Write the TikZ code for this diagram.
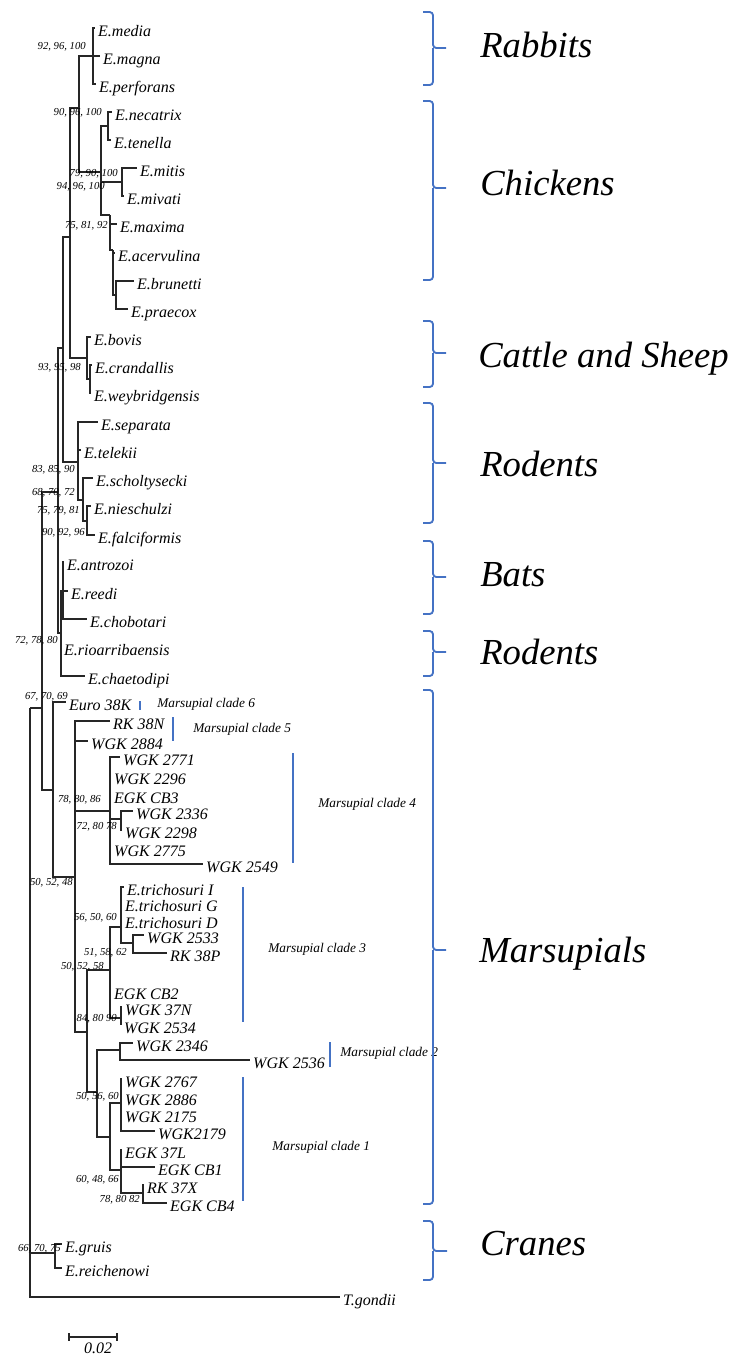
\documentclass[tikz,border=0pt]{standalone}
\usepackage{fontspec}
\setmainfont{Liberation Serif}
\usepackage{tikz}
\definecolor{cladeblue}{RGB}{68,114,196}

\begin{document}
\begin{tikzpicture}[x=0.75pt,y=-0.75pt,
    branch/.style={draw=black!85,line width=0.8pt},
    taxon/.style={anchor=west,inner xsep=2.2pt,inner ysep=0pt,text height=12pt,text depth=0pt,font=\itshape\fontsize{12}{14}\selectfont},
    boot/.style={anchor=east,inner sep=0pt,font=\itshape\fontsize{8}{9}\selectfont},
    clade/.style={anchor=west,inner sep=0pt,font=\itshape\fontsize{10}{12}\selectfont},
    host/.style={anchor=base west,inner sep=0pt,font=\itshape\fontsize{27.5}{32}\selectfont},
    cbar/.style={draw=cladeblue,line width=2.2pt},
    hbrace/.style={draw=cladeblue,line width=1.4pt,rounded corners=2.5pt}]
    \useasboundingbox (0,0) rectangle (735,1357);

    \coordinate (nroot) at (30,708);
    \coordinate (na) at (42,708);
    \coordinate (nb) at (58,492);
    \coordinate (nc) at (63,348);
    \coordinate (nd) at (70,237);
    \coordinate (ne) at (79,108);
    \coordinate (nrab) at (93,56);
    \coordinate (nchk) at (101,172);
    \coordinate (nnec) at (108,126);
    \coordinate (nmit) at (122,182);
    \coordinate (nmax) at (110,215);
    \coordinate (nace) at (113,250);
    \coordinate (nbru) at (116,295);
    \coordinate (ncat) at (87,358);
    \coordinate (ncra) at (90,379);
    \coordinate (nrod) at (78,462);
    \coordinate (nsch) at (83,500);
    \coordinate (nnie) at (87,521);
    \coordinate (nbat0) at (61,633);
    \coordinate (nbat) at (63,591);
    \coordinate (nf) at (53,790);
    \coordinate (nmar) at (75,877);
    \coordinate (nc4) at (110,811);
    \coordinate (nc4b) at (121,819);
    \coordinate (ng) at (87,1032);
    \coordinate (nc3) at (110,970);
    \coordinate (ntri) at (121,927);
    \coordinate (ntri2) at (133,943);
    \coordinate (nc3b) at (121,1018);
    \coordinate (nh) at (97,1092);
    \coordinate (nc2) at (120,1050);
    \coordinate (nc1) at (110,1137);
    \coordinate (nc1a) at (121,1103);
    \coordinate (nc1b) at (121,1170);
    \coordinate (nc1c) at (143,1193);
    \coordinate (ncrane) at (55,1253);

    \node[taxon] (media) at (95,28) {E.media};
    \node[taxon] (magna) at (100,56) {E.magna};
    \node[taxon] (perforans) at (96,84) {E.perforans};
    \node[taxon] (necatrix) at (112,112) {E.necatrix};
    \node[taxon] (tenella) at (111,140) {E.tenella};
    \node[taxon] (mitis) at (137,168) {E.mitis};
    \node[taxon] (mivati) at (124,196) {E.mivati};
    \node[taxon] (maxima) at (117,224) {E.maxima};
    \node[taxon] (acervulina) at (115,253) {E.acervulina};
    \node[taxon] (brunetti) at (134,281) {E.brunetti};
    \node[taxon] (praecox) at (128,309) {E.praecox};
    \node[taxon] (bovis) at (91,337) {E.bovis};
    \node[taxon] (crandallis) at (92,365) {E.crandallis};
    \node[taxon] (weybridgensis) at (91,393) {E.weybridgensis};
    \node[taxon] (separata) at (98,422) {E.separata};
    \node[taxon] (telekii) at (81,450) {E.telekii};
    \node[taxon] (scholtysecki) at (93,478) {E.scholtysecki};
    \node[taxon] (nieschulzi) at (91,506) {E.nieschulzi};
    \node[taxon] (falciformis) at (95,535) {E.falciformis};
    \node[taxon] (antrozoi) at (64,562) {E.antrozoi};
    \node[taxon] (reedi) at (68,591) {E.reedi};
    \node[taxon] (chobotari) at (87,619) {E.chobotari};
    \node[taxon] (rioarribaensis) at (61,647) {E.rioarribaensis};
    \node[taxon] (chaetodipi) at (85,676) {E.chaetodipi};
    \node[taxon] (euro) at (66,702) {Euro 38K};
    \node[taxon] (rkn) at (110,721) {RK 38N};
    \node[taxon] (w2884) at (88,741) {WGK 2884};
    \node[taxon] (w2771) at (120,757) {WGK 2771};
    \node[taxon] (w2296) at (111,776) {WGK 2296};
    \node[taxon] (ecb3) at (111,795) {EGK CB3};
    \node[taxon] (w2336) at (133,811) {WGK 2336};
    \node[taxon] (w2298) at (122,830) {WGK 2298};
    \node[taxon] (w2775) at (111,848) {WGK 2775};
    \node[taxon] (w2549) at (203,864) {WGK 2549};
    \node[taxon] (triI) at (124,887) {E.trichosuri I};
    \node[taxon] (triG) at (122,903) {E.trichosuri G};
    \node[taxon] (triD) at (122,920) {E.trichosuri D};
    \node[taxon] (w2533) at (144,935) {WGK 2533};
    \node[taxon] (rkp) at (167,953) {RK 38P};
    \node[taxon] (ecb2) at (111,991) {EGK CB2};
    \node[taxon] (w37n) at (122,1007) {WGK 37N};
    \node[taxon] (w2534) at (121,1025) {WGK 2534};
    \node[taxon] (w2346) at (133,1043) {WGK 2346};
    \node[taxon] (w2536) at (250,1060) {WGK 2536};
    \node[taxon] (w2767) at (122,1079) {WGK 2767};
    \node[taxon] (w2886) at (122,1097) {WGK 2886};
    \node[taxon] (w2175) at (122,1114) {WGK 2175};
    \node[taxon] (w2179) at (155,1131) {WGK2179};
    \node[taxon] (e37l) at (122,1150) {EGK 37L};
    \node[taxon] (ecb1) at (155,1167) {EGK CB1};
    \node[taxon] (rkx) at (144,1185) {RK 37X};
    \node[taxon] (ecb4) at (167,1203) {EGK CB4};
    \node[taxon] (gruis) at (62,1244) {E.gruis};
    \node[taxon] (reichenowi) at (62,1268) {E.reichenowi};
    \node[taxon] (tgondii) at (340,1297) {T.gondii};

    \draw[branch] (nroot) |- (na) (nroot) |- (ncrane) (nroot) |- (tgondii);
    \draw[branch] (na) |- (nb) (na) |- (nf);
    \draw[branch] (nb) |- (nc) (nb) |- (nbat0);
    \draw[branch] (nc) |- (nd) (nc) |- (nrod);
    \draw[branch] (nd) |- (ne) (nd) |- (ncat);
    \draw[branch] (ne) |- (nrab) (ne) |- (nchk);
    \draw[branch] (nrab) |- (media) (nrab) |- (magna) (nrab) |- (perforans);
    \draw[branch] (nchk) |- (nnec) (nchk) |- (nmit) (nchk) |- (nmax);
    \draw[branch] (nnec) |- (necatrix) (nnec) |- (tenella);
    \draw[branch] (nmit) |- (mitis) (nmit) |- (mivati);
    \draw[branch] (nmax) |- (maxima) (nmax) |- (nace);
    \draw[branch] (nace) |- (acervulina) (nace) |- (nbru);
    \draw[branch] (nbru) |- (brunetti) (nbru) |- (praecox);
    \draw[branch] (ncat) |- (bovis) (ncat) |- (ncra);
    \draw[branch] (ncra) |- (crandallis) (ncra) |- (weybridgensis);
    \draw[branch] (nrod) |- (separata) (nrod) |- (telekii) (nrod) |- (nsch);
    \draw[branch] (nsch) |- (scholtysecki) (nsch) |- (nnie);
    \draw[branch] (nnie) |- (nieschulzi) (nnie) |- (falciformis);
    \draw[branch] (nbat0) |- (nbat) (nbat0) |- (rioarribaensis) (nbat0) |- (chaetodipi);
    \draw[branch] (nbat) |- (antrozoi) (nbat) |- (reedi) (nbat) |- (chobotari);
    \draw[branch] (nf) |- (euro) (nf) |- (nmar);
    \draw[branch] (nmar) |- (rkn) (nmar) |- (w2884) (nmar) |- (nc4) (nmar) |- (ng);
    \draw[branch] (nc4) |- (w2771) (nc4) |- (w2296) (nc4) |- (ecb3) (nc4) |- (nc4b) (nc4) |- (w2775) (nc4) |- (w2549);
    \draw[branch] (nc4b) |- (w2336) (nc4b) |- (w2298);
    \draw[branch] (ng) |- (nc3) (ng) |- (nh);
    \draw[branch] (nc3) |- (ntri) (nc3) |- (ecb2) (nc3) |- (nc3b);
    \draw[branch] (ntri) |- (triI) (ntri) |- (triG) (ntri) |- (triD) (ntri) |- (ntri2);
    \draw[branch] (ntri2) |- (w2533) (ntri2) |- (rkp);
    \draw[branch] (nc3b) |- (w37n) (nc3b) |- (w2534);
    \draw[branch] (nh) |- (nc2) (nh) |- (nc1);
    \draw[branch] (nc2) |- (w2346) (nc2) |- (w2536);
    \draw[branch] (nc1) |- (nc1a) (nc1) |- (nc1b);
    \draw[branch] (nc1a) |- (w2767) (nc1a) |- (w2886) (nc1a) |- (w2175) (nc1a) |- (w2179);
    \draw[branch] (nc1b) |- (e37l) (nc1b) |- (ecb1) (nc1b) |- (nc1c);
    \draw[branch] (nc1c) |- (rkx) (nc1c) |- (ecb4);
    \draw[branch] (ncrane) |- (gruis) (ncrane) |- (reichenowi);

    \node[boot] (b1) at (86,47) {92, 96, 100};
    \node[boot] (b2) at (102,113) {90, 96, 100};
    \node[boot] (b3) at (118,174) {79, 90, 100};
    \node[boot] (b4) at (105,187) {94, 96, 100};
    \node[boot] (b5) at (108,226) {75, 81, 92};
    \node[boot] (b6) at (81,368) {93, 95, 98};
    \node[boot] (b7) at (75,470) {83, 85, 90};
    \node[boot] (b8) at (75,493) {68, 70, 72};
    \node[boot] (b9) at (80,511) {75, 79, 81};
    \node[boot] (b10) at (85,533) {90, 92, 96};
    \node[boot] (b11) at (58,641) {72, 78, 80};
    \node[boot] (b12) at (68,697) {67, 70, 69};
    \node[boot] (b13) at (101,800) {78, 80, 86};
    \node[boot] (b14) at (117,827) {72, 80 78};
    \node[boot] (b15) at (73,883) {50, 52, 48};
    \node[boot] (b16) at (117,918) {56, 50, 60};
    \node[boot] (b17) at (127,953) {51, 58, 62};
    \node[boot] (b18) at (104,967) {50, 52, 58};
    \node[boot] (b19) at (117,1019) {84, 80 90};
    \node[boot] (b20) at (119,1097) {50, 56, 60};
    \node[boot] (b21) at (119,1180) {60, 48, 66};
    \node[boot] (b22) at (140,1200) {78, 80 82};
    \node[boot] (b23) at (61,1249) {66, 70, 75};

    \draw[cbar] (140,701) -- (140,710);
    \draw[cbar] (173,717) -- (173,741);
    \draw[cbar] (293,753) -- (293,863);
    \draw[cbar] (243,887) -- (243,1022);
    \draw[cbar] (330,1042) -- (330,1067);
    \draw[cbar] (243,1077) -- (243,1201);
    \node[clade] (c6) at (157,704) {Marsupial clade 6};
    \node[clade] (c5) at (193,729) {Marsupial clade 5};
    \node[clade] (c4) at (318,804) {Marsupial clade 4};
    \node[clade] (c3) at (268,949) {Marsupial clade 3};
    \node[clade] (c2) at (340,1053) {Marsupial clade 2};
    \node[clade] (c1) at (272,1147) {Marsupial clade 1};

    \draw[hbrace] (423,12) -| (433,48) -- (446,48);
    \draw[hbrace] (423,85) -| (433,48);
    \draw[hbrace] (423,101) -| (433,188) -- (446,188);
    \draw[hbrace] (423,280) -| (433,188);
    \draw[hbrace] (423,321) -| (433,353) -- (446,353);
    \draw[hbrace] (423,387) -| (433,353);
    \draw[hbrace] (423,403) -| (433,463) -- (446,463);
    \draw[hbrace] (423,523) -| (433,463);
    \draw[hbrace] (423,541) -| (433,577) -- (446,577);
    \draw[hbrace] (423,614) -| (433,577);
    \draw[hbrace] (423,631) -| (433,652) -- (446,652);
    \draw[hbrace] (423,676) -| (433,652);
    \draw[hbrace] (423,690) -| (433,950) -- (446,950);
    \draw[hbrace] (423,1204) -| (433,950);
    \draw[hbrace] (423,1221) -| (433,1251) -- (447,1251);
    \draw[hbrace] (423,1280) -| (433,1251);
    \node[host] (rabbits) at (480,57) {Rabbits};
    \node[host] (chickens) at (480,195) {Chickens};
    \node[host] (cattle) at (478,367) {Cattle and Sheep};
    \node[host] (rodentsa) at (480,476) {Rodents};
    \node[host] (bats) at (480,586) {Bats};
    \node[host] (rodentsb) at (480,664) {Rodents};
    \node[host] (marsupials) at (479,962) {Marsupials};
    \node[host] (cranes) at (480,1255) {Cranes};

    \draw[branch] (69,1333) -- (69,1341) (69,1337) -- (117,1337) (117,1333) -- (117,1341);
    \node[inner sep=0pt,font=\itshape\fontsize{12}{14}\selectfont] (scale) at (98,1348) {0.02};
\end{tikzpicture}
\end{document}
